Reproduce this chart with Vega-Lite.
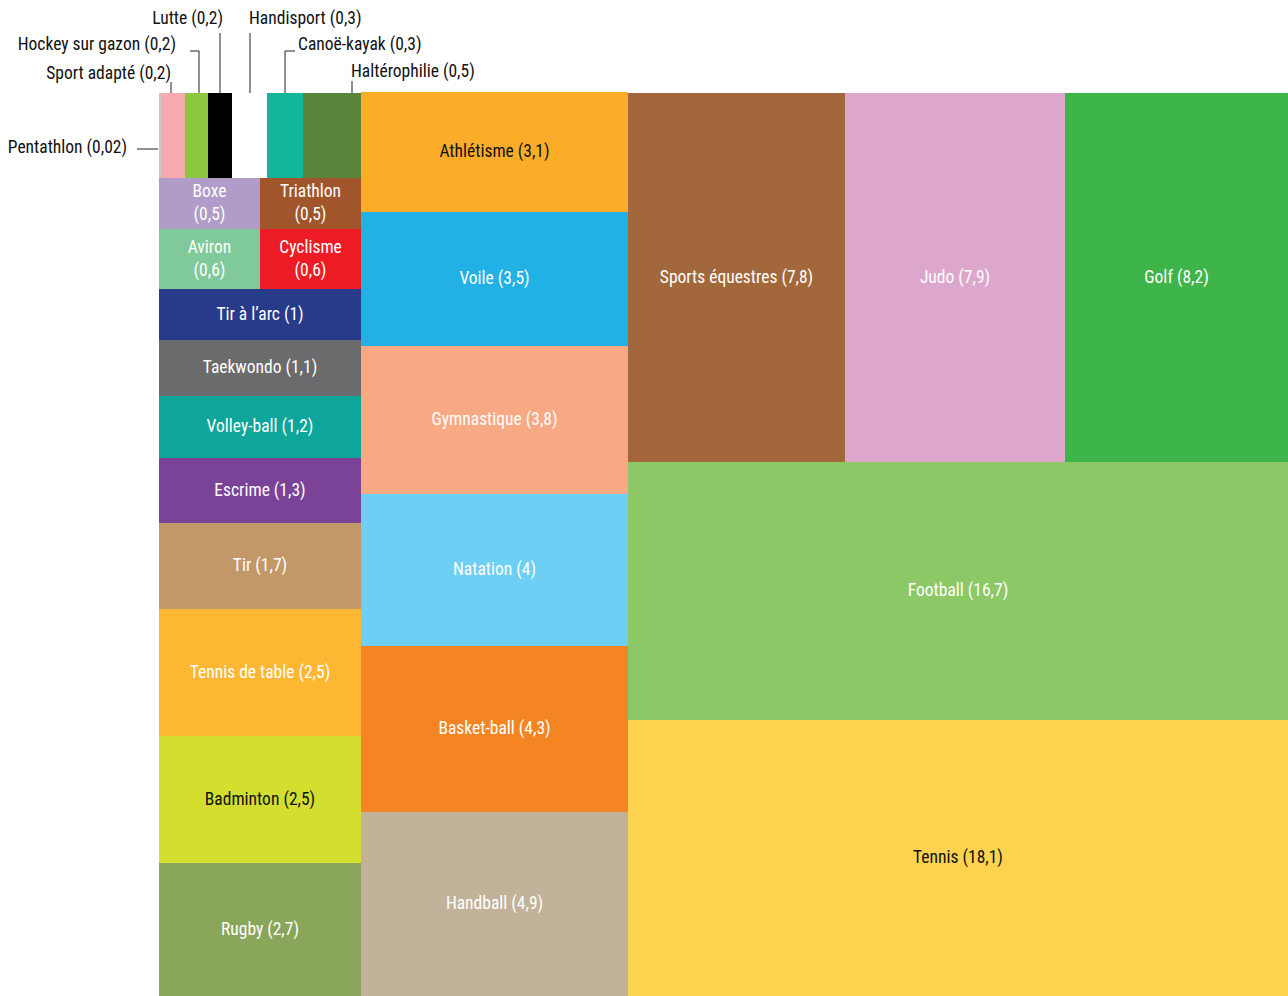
{
  "$schema": "https://vega.github.io/schema/vega-lite/v6.json",
  "width": 1129,
  "height": 903,
  "padding": {"left": 159, "top": 93, "right": 0, "bottom": 0},
  "autosize": {"type": "none"},
  "background": "white",
  "config": {"view": {"stroke": null}},
  "datasets": {
    "tiles": [
      {"sport": "Pentathlon", "value": 0.02, "x0": 0, "x1": 2, "y0": 0, "y1": 85},
      {"sport": "Sport adapté", "value": 0.2, "x0": 2, "x1": 26, "y0": 0, "y1": 85},
      {"sport": "Hockey sur gazon", "value": 0.2, "x0": 26, "x1": 49, "y0": 0, "y1": 85},
      {"sport": "Lutte", "value": 0.2, "x0": 49, "x1": 73, "y0": 0, "y1": 85},
      {"sport": "Handisport", "value": 0.3, "x0": 73, "x1": 108, "y0": 0, "y1": 85},
      {"sport": "Canoë-kayak", "value": 0.3, "x0": 108, "x1": 144, "y0": 0, "y1": 85},
      {"sport": "Haltérophilie", "value": 0.5, "x0": 144, "x1": 202, "y0": 0, "y1": 85},
      {"sport": "Boxe", "value": 0.5, "x0": 0, "x1": 101, "y0": 85, "y1": 136},
      {"sport": "Triathlon", "value": 0.5, "x0": 101, "x1": 202, "y0": 85, "y1": 136},
      {"sport": "Aviron", "value": 0.6, "x0": 0, "x1": 101, "y0": 136, "y1": 196},
      {"sport": "Cyclisme", "value": 0.6, "x0": 101, "x1": 202, "y0": 136, "y1": 196},
      {"sport": "Tir à l’arc", "value": 1, "x0": 0, "x1": 202, "y0": 196, "y1": 247},
      {"sport": "Taekwondo", "value": 1.1, "x0": 0, "x1": 202, "y0": 247, "y1": 303},
      {"sport": "Volley-ball", "value": 1.2, "x0": 0, "x1": 202, "y0": 303, "y1": 365},
      {"sport": "Escrime", "value": 1.3, "x0": 0, "x1": 202, "y0": 365, "y1": 430},
      {"sport": "Tir", "value": 1.7, "x0": 0, "x1": 202, "y0": 430, "y1": 516},
      {"sport": "Tennis de table", "value": 2.5, "x0": 0, "x1": 202, "y0": 516, "y1": 643},
      {"sport": "Badminton", "value": 2.5, "x0": 0, "x1": 202, "y0": 643, "y1": 770},
      {"sport": "Rugby", "value": 2.7, "x0": 0, "x1": 202, "y0": 770, "y1": 903},
      {"sport": "Athlétisme", "value": 3.1, "x0": 202, "x1": 469, "y0": -1, "y1": 119},
      {"sport": "Voile", "value": 3.5, "x0": 202, "x1": 469, "y0": 119, "y1": 253},
      {"sport": "Gymnastique", "value": 3.8, "x0": 202, "x1": 469, "y0": 253, "y1": 401},
      {"sport": "Natation", "value": 4, "x0": 202, "x1": 469, "y0": 401, "y1": 553},
      {"sport": "Basket-ball", "value": 4.3, "x0": 202, "x1": 469, "y0": 553, "y1": 719},
      {"sport": "Handball", "value": 4.9, "x0": 202, "x1": 469, "y0": 719, "y1": 903},
      {"sport": "Sports équestres", "value": 7.8, "x0": 469, "x1": 686, "y0": 0, "y1": 369},
      {"sport": "Judo", "value": 7.9, "x0": 686, "x1": 906, "y0": 0, "y1": 369},
      {"sport": "Golf", "value": 8.2, "x0": 906, "x1": 1129, "y0": 0, "y1": 369},
      {"sport": "Football", "value": 16.7, "x0": 469, "x1": 1129, "y0": 369, "y1": 627},
      {"sport": "Tennis", "value": 18.1, "x0": 469, "x1": 1129, "y0": 627, "y1": 903}
    ],
    "callouts": [
      {"sport": "Lutte", "value": 0.2, "tx": 64, "ty": -69, "side": "right"},
      {"sport": "Handisport", "value": 0.3, "tx": 90, "ty": -69, "side": "left"},
      {"sport": "Hockey sur gazon", "value": 0.2, "tx": 17, "ty": -43, "side": "right"},
      {"sport": "Canoë-kayak", "value": 0.3, "tx": 139, "ty": -43, "side": "left"},
      {"sport": "Sport adapté", "value": 0.2, "tx": 12, "ty": -14, "side": "right"},
      {"sport": "Haltérophilie", "value": 0.5, "tx": 192, "ty": -16, "side": "left"},
      {"sport": "Pentathlon", "value": 0.02, "tx": -32, "ty": 60, "side": "right"}
    ],
    "leaders": [
      {"sport": "Pentathlon", "ax": -22, "ay": 56, "bx": -1, "by": 56},
      {"sport": "Sport adapté", "ax": 12, "ay": -11, "bx": 12, "by": 0},
      {"sport": "Hockey sur gazon", "ax": 31, "ay": -42, "bx": 40, "by": -42},
      {"sport": "Hockey sur gazon", "ax": 40, "ay": -42, "bx": 40, "by": 0},
      {"sport": "Lutte", "ax": 61, "ay": -60, "bx": 61, "by": 0},
      {"sport": "Handisport", "ax": 91, "ay": -60, "bx": 91, "by": 0},
      {"sport": "Canoë-kayak", "ax": 126, "ay": -42, "bx": 136, "by": -42},
      {"sport": "Canoë-kayak", "ax": 126, "ay": -42, "bx": 126, "by": 0},
      {"sport": "Haltérophilie", "ax": 193, "ay": -12, "bx": 193, "by": 0}
    ]
  },
  "layer": [
    {
      "data": {"name": "tiles"},
      "mark": {"type": "rect", "strokeWidth": 0},
      "encoding": {
        "x": {"field": "x0", "type": "quantitative", "scale": {"domain": [0, 1129], "nice": false, "zero": false}, "axis": null},
        "x2": {"field": "x1"},
        "y": {"field": "y0", "type": "quantitative", "scale": {"domain": [0, 903], "nice": false, "zero": false, "reverse": true}, "axis": null},
        "y2": {"field": "y1"},
        "color": {
          "field": "sport", "type": "nominal", "legend": null,
          "scale": {
            "domain": ["Pentathlon", "Sport adapté", "Hockey sur gazon", "Lutte", "Handisport", "Canoë-kayak", "Haltérophilie", "Boxe", "Triathlon", "Aviron", "Cyclisme", "Tir à l’arc", "Taekwondo", "Volley-ball", "Escrime", "Tir", "Tennis de table", "Badminton", "Rugby", "Athlétisme", "Voile", "Gymnastique", "Natation", "Basket-ball", "Handball", "Sports équestres", "Judo", "Golf", "Football", "Tennis"],
            "range": ["#c6c8ca", "#f6aab0", "#8dc63f", "#000000", "#ffffff", "#13b69b", "#5a843c", "#b19bc8", "#a0552b", "#80c99b", "#ed1c24", "#283a8a", "#6a6b6d", "#0ea59a", "#7b4397", "#c39868", "#fdb733", "#d4de2f", "#8aa65b", "#fbad2a", "#21b1e5", "#f7a983", "#6ecff5", "#f58423", "#c2b29a", "#a3673c", "#dca7cb", "#3db54a", "#8cc866", "#fed350"]
          }
        }
      }
    },
    {
      "data": {"name": "tiles"},
      "transform": [
        {"filter": "datum.x1 - datum.x0 > 60"},
        {"calculate": "datum.x1 - datum.x0 < 150", "as": "narrow"},
        {"calculate": "(datum.x0 + datum.x1) / 2", "as": "xc"},
        {"calculate": "(datum.y0 + datum.y1) / 2 - (datum.narrow ? 11.5 : 0)", "as": "yc"},
        {"calculate": "datum.sport + (datum.narrow ? '\\n' : ' ') + '(' + replace(toString(datum.value), '.', ',') + ')'", "as": "label"}
      ],
      "mark": {"type": "text", "align": "center", "baseline": "middle", "fontSize": 17.5, "fontWeight": 400, "font": "Roboto Condensed, Liberation Sans Narrow, Roboto, sans-serif", "lineBreak": "\n", "lineHeight": 23},
      "encoding": {
        "x": {"field": "xc", "type": "quantitative", "scale": {"domain": [0, 1129], "nice": false, "zero": false}, "axis": null},
        "y": {"field": "yc", "type": "quantitative", "scale": {"domain": [0, 903], "nice": false, "zero": false, "reverse": true}, "axis": null},
        "text": {"field": "label"},
        "color": {"condition": {"test": "indexof(['Athlétisme', 'Badminton', 'Tennis'], datum.sport) >= 0", "value": "#111111"}, "value": "#ffffff"}
      }
    },
    {
      "data": {"name": "leaders"},
      "mark": {"type": "rule", "color": "#222222", "strokeWidth": 1},
      "encoding": {
        "x": {"field": "ax", "type": "quantitative", "scale": {"domain": [0, 1129], "nice": false, "zero": false}, "axis": null},
        "y": {"field": "ay", "type": "quantitative", "scale": {"domain": [0, 903], "nice": false, "zero": false, "reverse": true}, "axis": null},
        "x2": {"field": "bx"},
        "y2": {"field": "by"}
      }
    },
    {
      "data": {"name": "callouts"},
      "transform": [
        {"filter": "datum.side == 'right'"},
        {"calculate": "datum.sport + ' (' + replace(toString(datum.value), '.', ',') + ')'", "as": "label"}
      ],
      "mark": {"type": "text", "align": "right", "baseline": "alphabetic", "fontSize": 17.5, "fontWeight": 400, "font": "Roboto Condensed, Liberation Sans Narrow, Roboto, sans-serif", "color": "#111111"},
      "encoding": {
        "x": {"field": "tx", "type": "quantitative", "scale": {"domain": [0, 1129], "nice": false, "zero": false}, "axis": null},
        "y": {"field": "ty", "type": "quantitative", "scale": {"domain": [0, 903], "nice": false, "zero": false, "reverse": true}, "axis": null},
        "text": {"field": "label"}
      }
    },
    {
      "data": {"name": "callouts"},
      "transform": [
        {"filter": "datum.side == 'left'"},
        {"calculate": "datum.sport + ' (' + replace(toString(datum.value), '.', ',') + ')'", "as": "label"}
      ],
      "mark": {"type": "text", "align": "left", "baseline": "alphabetic", "fontSize": 17.5, "fontWeight": 400, "font": "Roboto Condensed, Liberation Sans Narrow, Roboto, sans-serif", "color": "#111111"},
      "encoding": {
        "x": {"field": "tx", "type": "quantitative", "scale": {"domain": [0, 1129], "nice": false, "zero": false}, "axis": null},
        "y": {"field": "ty", "type": "quantitative", "scale": {"domain": [0, 903], "nice": false, "zero": false, "reverse": true}, "axis": null},
        "text": {"field": "label"}
      }
    }
  ]
}
